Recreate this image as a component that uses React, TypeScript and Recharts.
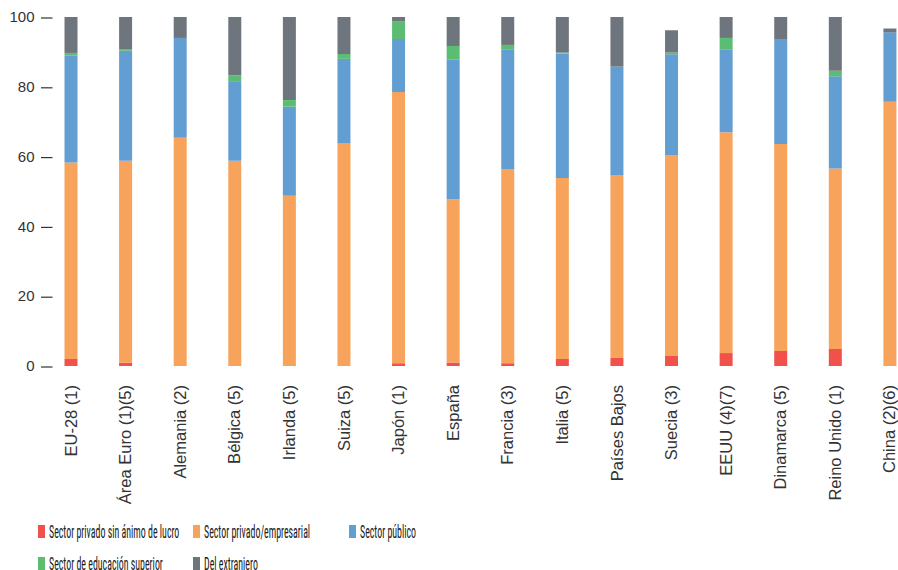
import { BarChart, Bar, XAxis, YAxis, Legend } from 'recharts';

const paises = [
  'EU-28 (1)',
  'Área Euro (1)(5)',
  'Alemania (2)',
  'Bélgica (5)',
  'Irlanda (5)',
  'Suiza (5)',
  'Japón (1)',
  'España',
  'Francia (3)',
  'Italia (5)',
  'Países Bajos',
  'Suecia (3)',
  'EEUU (4)(7)',
  'Dinamarca (5)',
  'Reino Unido (1)',
  'China (2)(6)',
];

// % del gasto en I+D según origen de los fondos
const sinLucro = [2, 0.9, 0, 0, 0, 0, 0.8, 1, 0.8, 2, 2.3, 2.9, 3.7, 4.3, 4.9, 0];
const empresarial = [56.3, 57.9, 65.4, 58.8, 48.8, 63.9, 77.7, 46.8, 55.5, 51.9, 52.4, 57.4, 63.3, 59.3, 51.7, 75.7];
const publico = [30.6, 31.5, 28.6, 22.6, 25.5, 24.1, 15.2, 40, 34.3, 35.6, 31.1, 29, 23.6, 30.1, 26.4, 19.9];
const educacion = [0.8, 0.5, 0, 1.9, 1.9, 1.4, 5, 3.9, 1.4, 0.3, 0, 0.5, 3.4, 0, 1.6, 0];
const extranjero = [10.3, 9.2, 6, 16.7, 23.8, 10.6, 1.3, 8.3, 8, 10.2, 14.2, 6.4, 6, 6.3, 15.4, 1.1];

const ticksY = [0, 20, 40, 60, 80, 100];

const SERIES = [
  { key: 'sinLucro', name: 'Sector privado sin ánimo de lucro', color: '#f0514a' },
  { key: 'empresarial', name: 'Sector privado/empresarial', color: '#f7a35c' },
  { key: 'publico', name: 'Sector público', color: '#639ed2' },
  { key: 'educacion', name: 'Sector de educación superior', color: '#5bbd72' },
  { key: 'extranjero', name: 'Del extranjero', color: '#6e757c' },
];

const data = paises.map((pais, i) => ({
  pais,
  sinLucro: sinLucro[i],
  empresarial: empresarial[i],
  publico: publico[i],
  educacion: educacion[i],
  extranjero: extranjero[i],
}));

const FONT = '"Liberation Sans", Arial, sans-serif';

const PaisTick = ({ x, y, payload }: any) => (
  <text
    x={x}
    y={y}
    transform={`rotate(-90 ${x} ${y})`}
    textAnchor="end"
    dy="0.35em"
    fontSize={16.5}
    fontFamily={FONT}
    fill="#333"
  >
    {payload.value}
  </text>
);

const ValorTick = ({ x, y, payload }: any) => (
  <g>
    <line x1={x - 2.5} x2={x + 9} y1={y + 1} y2={y + 1} stroke="#333" strokeWidth={1.2} />
    <text x={x - 9} y={y} dy="0.35em" textAnchor="end" fontSize={15} fontFamily={FONT} fill="#333">
      {payload.value}
    </text>
  </g>
);

// keep the series order (Recharts sorts legend items by name)
const Leyenda = ({ payload }: any) => {
  const items = [...(payload || [])].sort(
    (a: any, b: any) =>
      SERIES.findIndex((s) => s.name === a.value) - SERIES.findIndex((s) => s.name === b.value)
  );
  return (
    <div style={{ display: 'grid', gridTemplateColumns: '155px 156px 155px', rowGap: 19 }}>
      {items.map((item: any) => (
        <div key={item.value} style={{ display: 'flex', alignItems: 'center', height: 13 }}>
          <span style={{ width: 7, height: 13, background: item.color, marginRight: 4, flex: 'none' }} />
          <span
            style={{
              fontFamily: '"Liberation Sans Narrow", "Roboto Condensed", Arial, sans-serif',
              fontSize: 18.5,
              color: '#1a1a1a',
              whiteSpace: 'nowrap',
              display: 'inline-block',
              transform: 'scaleX(0.535)',
              transformOrigin: 'left center',
            }}
          >
            {item.value}
          </span>
        </div>
      ))}
    </div>
  );
};

export default function App() {
  return (
    <div
      style={{
        position: 'fixed',
        left: 0,
        top: 0,
        width: 898,
        height: 570,
        overflow: 'hidden',
        background: '#fff',
      }}
    >
      <BarChart width={918} height={580} data={data} margin={{ top: 17, right: 1, left: 0, bottom: 0 }} barSize={13}>
        <XAxis
          dataKey="pais"
          interval={0}
          height={214}
          axisLine={false}
          tickLine={false}
          tickSize={0}
          tickMargin={19}
          tick={<PaisTick />}
        />
        <YAxis
          domain={[0, 100]}
          ticks={ticksY}
          allowDataOverflow
          width={43.5}
          axisLine={false}
          tickLine={false}
          tickSize={0}
          tickMargin={0}
          tick={<ValorTick />}
        />
        <Legend
          layout="horizontal"
          verticalAlign="middle"
          align="center"
          content={<Leyenda />}
          wrapperStyle={{ left: 38, top: 525, width: 480, height: 60 }}
        />
        {SERIES.map((s) => (
          <Bar key={s.key} dataKey={s.key} name={s.name} stackId="a" fill={s.color} isAnimationActive={false} />
        ))}
      </BarChart>
    </div>
  );
}
